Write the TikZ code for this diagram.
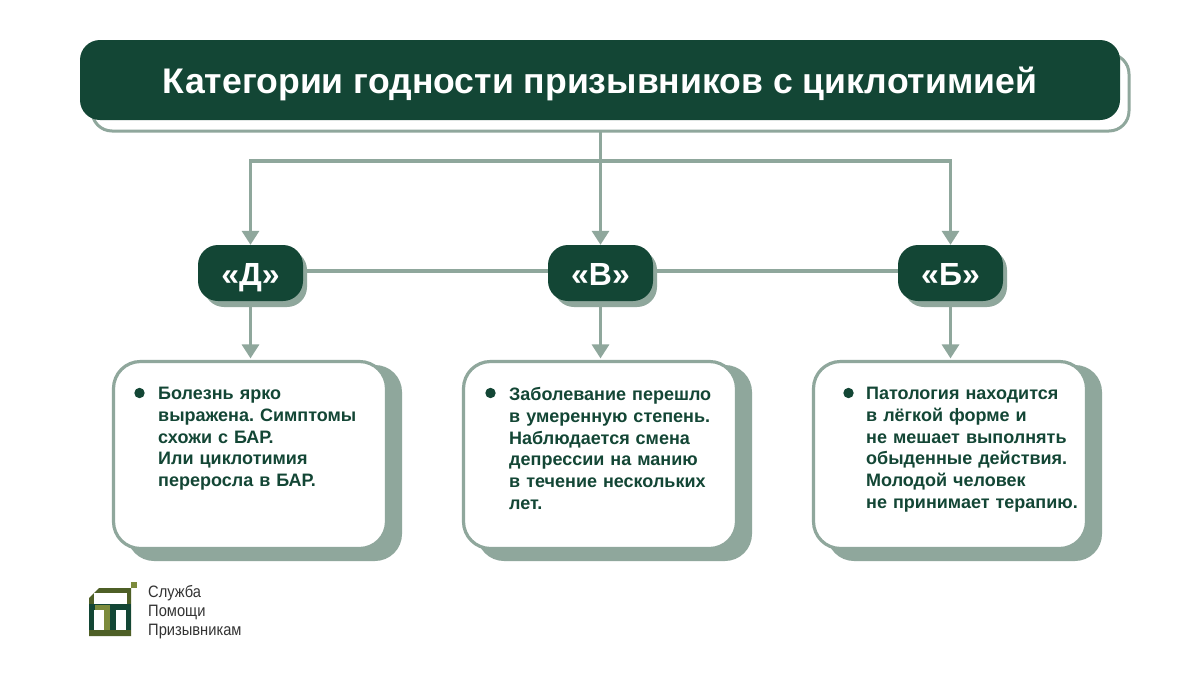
\documentclass[tikz,border=0pt]{standalone}
\usepackage{fontspec}
\setmainfont{Liberation Sans}
\newfontfamily\logofont[FakeStretch=0.89]{Liberation Sans}
\usetikzlibrary{arrows.meta}
\definecolor{dk}{HTML}{134635}
\definecolor{sg}{HTML}{8FA79C}
\definecolor{ol}{HTML}{4E5F26}
\definecolor{ol2}{HTML}{7C8B3C}
\tikzset{
 x=1pt,y=-1pt,
 conn/.style={draw=sg,line width=3.2pt},
 arr/.style={conn,-{Triangle[length=14pt,width=17pt]}},
 badge/.style={fill=dk,rounded corners=20pt,minimum width=105pt,minimum height=56pt,text=white,font=\fontsize{32}{32}\selectfont\bfseries,inner sep=0pt,text height=24pt,text depth=0pt},
 cardbox/.style={draw=sg,fill=white,line width=3.2pt,rounded corners=27pt,minimum width=273pt,minimum height=187pt,inner sep=0pt},
 desc/.style={font=\frenchspacing\fontsize{18}{21.8}\selectfont\bfseries,text=dk,align=left,anchor=north west,inner sep=0pt,text width=240pt},
 dot/.style={fill=dk},
 shade/.style={fill=sg},
}
\begin{document}
\begin{tikzpicture}
\useasboundingbox (0,0) rectangle (1191,686);
\fill[white] (0,0) rectangle (1191,686);
% title
\draw[sg,line width=3pt,rounded corners=20pt] (92,54) rectangle (1129,131);
\node[fill=dk,rounded corners=20pt,minimum width=1040pt,minimum height=80pt,inner sep=0pt,text=white,font=\fontsize{35.6}{36}\selectfont\bfseries,text height=27pt,text depth=0pt] (title) at (600,80) {Категории годности призывников с циклотимией};
\coordinate (hub) at (600.5,161);
\coordinate (ts) at (600.5,131);
% shadows
\fill[shade,rounded corners=20pt] (204,250) rectangle (307,307);
\fill[shade,rounded corners=20pt] (554,250) rectangle (657,307);
\fill[shade,rounded corners=20pt] (904,250) rectangle (1007,307);
\node[badge] (d) at (250.5,273) {«Д»};
\node[badge] (v) at (600.5,273) {«В»};
\node[badge] (b) at (950.5,273) {«Б»};
% connectors top
\draw[arr] (ts) -- (v.north);
\draw[arr] (hub) -| (d.north);
\draw[arr] (hub) -| (b.north);
\draw[conn] (307,271) -- (548,271);
\draw[conn] (657,271) -- (898,271);
% cards
\fill[shade,rounded corners=27pt] (127,365) rectangle (402,561);
\fill[shade,rounded corners=27pt] (477,365) rectangle (752,561);
\fill[shade,rounded corners=27pt] (827,365) rectangle (1102,561);
\node[cardbox] (c1) at (250,455) {};
\node[cardbox] (c2) at (600,455) {};
\node[cardbox] (c3) at (950,455) {};
\draw[arr,shorten >=1.5pt] (d.south |- 307,306) -- (d.south |- c1.north);
\draw[arr,shorten >=1.5pt] (v.south |- 307,306) -- (v.south |- c2.north);
\draw[arr,shorten >=1.5pt] (b.south |- 307,306) -- (b.south |- c3.north);
% bullets
\fill[dot] (139.5,393) circle (5.2pt);
\fill[dot] (490.5,393) circle (5.2pt);
\fill[dot] (848.5,393) circle (5.2pt);
\node[desc] (t1) at (158,387) {Болезнь ярко\\выражена. Симптомы\\схожи с БАР.\\Или циклотимия\\переросла в БАР.};
\node[desc] (t2) at (509,387) {Заболевание перешло\\в умеренную степень.\\Наблюдается смена\\депрессии на манию\\в течение нескольких\\лет.};
\node[desc] (t3) at (866,387) {Патология находится\\в лёгкой форме и\\не мешает выполнять\\обыденные действия.\\Молодой человек\\не принимает терапию.};
% logo
\fill[ol] (89,636) -- (89,598) -- (99,588) -- (131,588) -- (131,636) -- cycle;
\fill[dk] (89,604) rectangle (131,630);
\fill[white] (94,593) rectangle (127,603.5);
\fill[ol2] (95,605) rectangle (110,610);
\fill[ol2] (104,610) rectangle (110,630);
\fill[white] (94,610) rectangle (104,630);
\fill[white] (116,610) rectangle (126,630);
\fill[ol2] (131,582) rectangle (137,588);
\node[anchor=north west,inner sep=0pt,align=left,text=black!80,font=\logofont\fontsize{16.5}{19}\selectfont] (logo) at (148,585) {Служба\\Помощи\\Призывникам};
\end{tikzpicture}
\end{document}
